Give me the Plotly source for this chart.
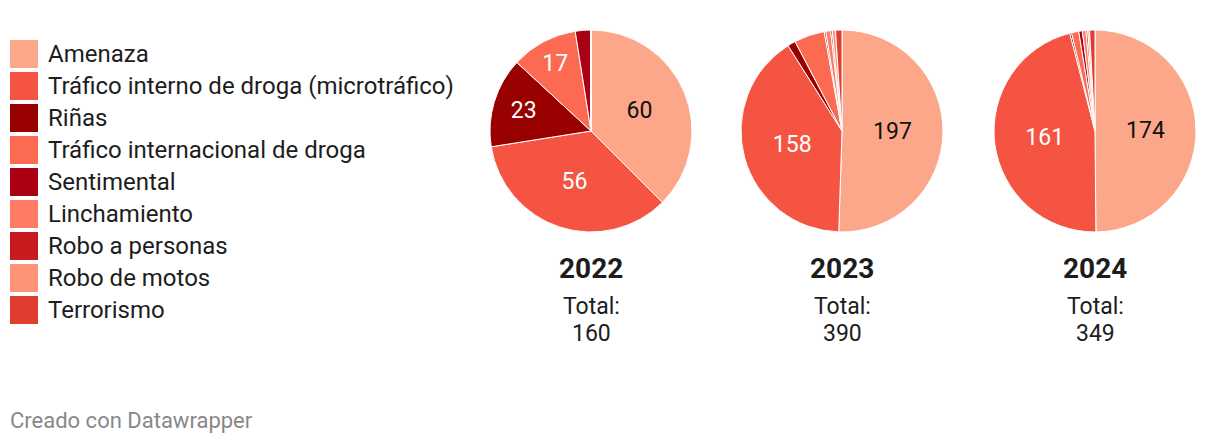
import plotly.graph_objects as go

categories = [
    "Amenaza",
    "Tráfico interno de droga (microtráfico)",
    "Riñas",
    "Tráfico internacional de droga",
    "Sentimental",
    "Linchamiento",
    "Robo a personas",
    "Robo de motos",
    "Terrorismo",
]
colors = ["#fca78a", "#f65443", "#990000", "#fd6a52", "#ab0014",
          "#fd7b62", "#c91b1f", "#fd9478", "#e03c30"]

years = ["2022", "2023", "2024"]
values_2022 = [60, 56, 23, 17, 4, 0, 0, 0, 0]
values_2023 = [197, 158, 5, 19, 1, 3, 1, 2, 4]
values_2024 = [174, 161, 1, 4, 2, 2, 1, 1, 3]
totals = [160, 390, 349]

W, H = 1220, 444
OFF = 8  # page body margin shifts the figure by this many px
FONT = "Roboto"


def px(x):
    return (x - OFF) / W


def py(y):
    return 1 - (y - OFF) / H


fig = go.Figure()

centers_x = [591, 842, 1095]
cy, r = 131, 101
all_values = [values_2022, values_2023, values_2024]

for year, vals, cx, total in zip(years, all_values, centers_x, totals):
    s = sum(vals)
    text = [str(v) if v / s >= 0.08 else "" for v in vals]
    fig.add_trace(go.Pie(
        labels=categories,
        values=vals,
        text=text,
        textinfo="text",
        hoverinfo="label+value",
        sort=False,
        direction="clockwise",
        rotation=0,
        marker=dict(colors=colors, line=dict(color="white", width=1)),
        textfont=dict(family=FONT, size=23,
                      color=["#111111"] + ["#ffffff"] * (len(vals) - 1)),
        insidetextorientation="horizontal",
        textposition="inside",
        showlegend=False,
        domain=dict(x=[px(cx - r), px(cx + r)],
                    y=[py(cy + r), py(cy - r)]),
    ))
    for label, y, size in ((f"<b>{year}</b>", 268, 28),
                           ("Total:", 306, 23),
                           (str(total), 333, 23)):
        fig.add_annotation(x=px(cx), y=py(y), xref="paper", yref="paper",
                           text=label, showarrow=False,
                           xanchor="center", yanchor="middle",
                           font=dict(family=FONT, size=size, color="#1d1d1d"))

# manual legend
for i, (cat, col) in enumerate(zip(categories, colors)):
    y0 = 40 + 32 * i
    fig.add_shape(type="rect", xref="paper", yref="paper",
                  x0=px(10), x1=px(38), y0=py(y0 + 28), y1=py(y0),
                  fillcolor=col, line=dict(width=0))
    fig.add_annotation(x=px(46), y=py(y0 + 14), xref="paper", yref="paper",
                       text=cat, showarrow=False, xanchor="left", yanchor="middle",
                       font=dict(family=FONT, size=24, color="#1d1d1d"))

fig.add_annotation(x=px(8), y=py(420), xref="paper", yref="paper",
                   text="Creado con Datawrapper", showarrow=False,
                   xanchor="left", yanchor="middle",
                   font=dict(family=FONT, size=22, color="#888888"))

fig.update_layout(
    width=W, height=H,
    margin=dict(l=0, r=0, t=0, b=0),
    paper_bgcolor="white",
    plot_bgcolor="white",
    font=dict(family=FONT),
    showlegend=False,
)

fig.write_html("out.html")
